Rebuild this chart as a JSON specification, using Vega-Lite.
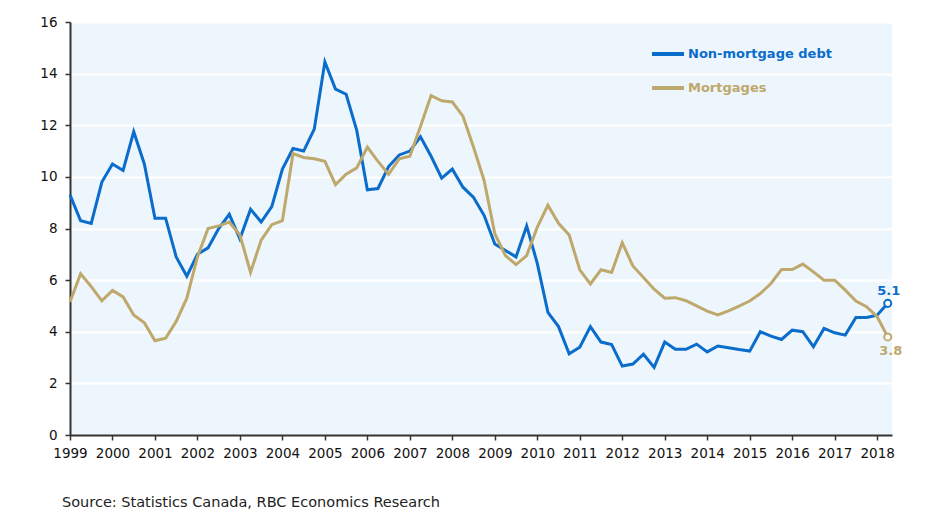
{
  "$schema": "https://vega.github.io/schema/vega-lite/v6.json",
  "width": 822,
  "height": 413,
  "autosize": "none",
  "padding": {"left": 70, "top": 22, "right": 46, "bottom": 76},
  "background": "white",
  "config": {
    "view": {"fill": "#eef6fd", "stroke": null},
    "axis": {"labelFont": "DejaVu Sans", "labelFontSize": 13.5, "labelColor": "#111111", "domainColor": "#333333", "domainWidth": 2, "tickColor": "#333333", "tickWidth": 1.5, "tickSize": 5}
  },
  "title": {
    "text": "Source: Statistics Canada, RBC Economics Research",
    "orient": "bottom",
    "anchor": "start",
    "frame": "group",
    "dx": -8,
    "offset": 36,
    "font": "DejaVu Sans",
    "fontSize": 14.5,
    "fontWeight": "normal",
    "color": "#222222"
  },
  "data": {
    "values": [
      {"t": 1999.0, "series": "Non-mortgage debt", "v": 9.3},
      {"t": 1999.25, "series": "Non-mortgage debt", "v": 8.3},
      {"t": 1999.5, "series": "Non-mortgage debt", "v": 8.2},
      {"t": 1999.75, "series": "Non-mortgage debt", "v": 9.8},
      {"t": 2000.0, "series": "Non-mortgage debt", "v": 10.5},
      {"t": 2000.25, "series": "Non-mortgage debt", "v": 10.25},
      {"t": 2000.5, "series": "Non-mortgage debt", "v": 11.75},
      {"t": 2000.75, "series": "Non-mortgage debt", "v": 10.5},
      {"t": 2001.0, "series": "Non-mortgage debt", "v": 8.4},
      {"t": 2001.25, "series": "Non-mortgage debt", "v": 8.4},
      {"t": 2001.5, "series": "Non-mortgage debt", "v": 6.9},
      {"t": 2001.75, "series": "Non-mortgage debt", "v": 6.15},
      {"t": 2002.0, "series": "Non-mortgage debt", "v": 7.0},
      {"t": 2002.25, "series": "Non-mortgage debt", "v": 7.25},
      {"t": 2002.5, "series": "Non-mortgage debt", "v": 8.0},
      {"t": 2002.75, "series": "Non-mortgage debt", "v": 8.55},
      {"t": 2003.0, "series": "Non-mortgage debt", "v": 7.6},
      {"t": 2003.25, "series": "Non-mortgage debt", "v": 8.75},
      {"t": 2003.5, "series": "Non-mortgage debt", "v": 8.25},
      {"t": 2003.75, "series": "Non-mortgage debt", "v": 8.85},
      {"t": 2004.0, "series": "Non-mortgage debt", "v": 10.3},
      {"t": 2004.25, "series": "Non-mortgage debt", "v": 11.1},
      {"t": 2004.5, "series": "Non-mortgage debt", "v": 11.0},
      {"t": 2004.75, "series": "Non-mortgage debt", "v": 11.85},
      {"t": 2005.0, "series": "Non-mortgage debt", "v": 14.45},
      {"t": 2005.25, "series": "Non-mortgage debt", "v": 13.4},
      {"t": 2005.5, "series": "Non-mortgage debt", "v": 13.2},
      {"t": 2005.75, "series": "Non-mortgage debt", "v": 11.8},
      {"t": 2006.0, "series": "Non-mortgage debt", "v": 9.5},
      {"t": 2006.25, "series": "Non-mortgage debt", "v": 9.55},
      {"t": 2006.5, "series": "Non-mortgage debt", "v": 10.4},
      {"t": 2006.75, "series": "Non-mortgage debt", "v": 10.85},
      {"t": 2007.0, "series": "Non-mortgage debt", "v": 11.0},
      {"t": 2007.25, "series": "Non-mortgage debt", "v": 11.55},
      {"t": 2007.5, "series": "Non-mortgage debt", "v": 10.8},
      {"t": 2007.75, "series": "Non-mortgage debt", "v": 9.95},
      {"t": 2008.0, "series": "Non-mortgage debt", "v": 10.3},
      {"t": 2008.25, "series": "Non-mortgage debt", "v": 9.6},
      {"t": 2008.5, "series": "Non-mortgage debt", "v": 9.2},
      {"t": 2008.75, "series": "Non-mortgage debt", "v": 8.5},
      {"t": 2009.0, "series": "Non-mortgage debt", "v": 7.4},
      {"t": 2009.25, "series": "Non-mortgage debt", "v": 7.15},
      {"t": 2009.5, "series": "Non-mortgage debt", "v": 6.9},
      {"t": 2009.75, "series": "Non-mortgage debt", "v": 8.1},
      {"t": 2010.0, "series": "Non-mortgage debt", "v": 6.65},
      {"t": 2010.25, "series": "Non-mortgage debt", "v": 4.75},
      {"t": 2010.5, "series": "Non-mortgage debt", "v": 4.2},
      {"t": 2010.75, "series": "Non-mortgage debt", "v": 3.15},
      {"t": 2011.0, "series": "Non-mortgage debt", "v": 3.4},
      {"t": 2011.25, "series": "Non-mortgage debt", "v": 4.2},
      {"t": 2011.5, "series": "Non-mortgage debt", "v": 3.6},
      {"t": 2011.75, "series": "Non-mortgage debt", "v": 3.5},
      {"t": 2012.0, "series": "Non-mortgage debt", "v": 2.67},
      {"t": 2012.25, "series": "Non-mortgage debt", "v": 2.75},
      {"t": 2012.5, "series": "Non-mortgage debt", "v": 3.13},
      {"t": 2012.75, "series": "Non-mortgage debt", "v": 2.62},
      {"t": 2013.0, "series": "Non-mortgage debt", "v": 3.6},
      {"t": 2013.25, "series": "Non-mortgage debt", "v": 3.32},
      {"t": 2013.5, "series": "Non-mortgage debt", "v": 3.32},
      {"t": 2013.75, "series": "Non-mortgage debt", "v": 3.52},
      {"t": 2014.0, "series": "Non-mortgage debt", "v": 3.22},
      {"t": 2014.25, "series": "Non-mortgage debt", "v": 3.45},
      {"t": 2014.5, "series": "Non-mortgage debt", "v": 3.38},
      {"t": 2014.75, "series": "Non-mortgage debt", "v": 3.31},
      {"t": 2015.0, "series": "Non-mortgage debt", "v": 3.25},
      {"t": 2015.25, "series": "Non-mortgage debt", "v": 4.0},
      {"t": 2015.5, "series": "Non-mortgage debt", "v": 3.83},
      {"t": 2015.75, "series": "Non-mortgage debt", "v": 3.7},
      {"t": 2016.0, "series": "Non-mortgage debt", "v": 4.06},
      {"t": 2016.25, "series": "Non-mortgage debt", "v": 4.0},
      {"t": 2016.5, "series": "Non-mortgage debt", "v": 3.42},
      {"t": 2016.75, "series": "Non-mortgage debt", "v": 4.13},
      {"t": 2017.0, "series": "Non-mortgage debt", "v": 3.96},
      {"t": 2017.25, "series": "Non-mortgage debt", "v": 3.87},
      {"t": 2017.5, "series": "Non-mortgage debt", "v": 4.55},
      {"t": 2017.75, "series": "Non-mortgage debt", "v": 4.55},
      {"t": 2018.0, "series": "Non-mortgage debt", "v": 4.64},
      {"t": 2018.25, "series": "Non-mortgage debt", "v": 5.1},
      {"t": 1999.0, "series": "Mortgages", "v": 5.15},
      {"t": 1999.25, "series": "Mortgages", "v": 6.25},
      {"t": 1999.5, "series": "Mortgages", "v": 5.75},
      {"t": 1999.75, "series": "Mortgages", "v": 5.2},
      {"t": 2000.0, "series": "Mortgages", "v": 5.6},
      {"t": 2000.25, "series": "Mortgages", "v": 5.35},
      {"t": 2000.5, "series": "Mortgages", "v": 4.65},
      {"t": 2000.75, "series": "Mortgages", "v": 4.35},
      {"t": 2001.0, "series": "Mortgages", "v": 3.65},
      {"t": 2001.25, "series": "Mortgages", "v": 3.75},
      {"t": 2001.5, "series": "Mortgages", "v": 4.4},
      {"t": 2001.75, "series": "Mortgages", "v": 5.3},
      {"t": 2002.0, "series": "Mortgages", "v": 6.9},
      {"t": 2002.25, "series": "Mortgages", "v": 8.0},
      {"t": 2002.5, "series": "Mortgages", "v": 8.1},
      {"t": 2002.75, "series": "Mortgages", "v": 8.25},
      {"t": 2003.0, "series": "Mortgages", "v": 7.75},
      {"t": 2003.25, "series": "Mortgages", "v": 6.3},
      {"t": 2003.5, "series": "Mortgages", "v": 7.55},
      {"t": 2003.75, "series": "Mortgages", "v": 8.15},
      {"t": 2004.0, "series": "Mortgages", "v": 8.3},
      {"t": 2004.25, "series": "Mortgages", "v": 10.9},
      {"t": 2004.5, "series": "Mortgages", "v": 10.75},
      {"t": 2004.75, "series": "Mortgages", "v": 10.7},
      {"t": 2005.0, "series": "Mortgages", "v": 10.6},
      {"t": 2005.25, "series": "Mortgages", "v": 9.7},
      {"t": 2005.5, "series": "Mortgages", "v": 10.1},
      {"t": 2005.75, "series": "Mortgages", "v": 10.35},
      {"t": 2006.0, "series": "Mortgages", "v": 11.15},
      {"t": 2006.25, "series": "Mortgages", "v": 10.6},
      {"t": 2006.5, "series": "Mortgages", "v": 10.1},
      {"t": 2006.75, "series": "Mortgages", "v": 10.7},
      {"t": 2007.0, "series": "Mortgages", "v": 10.8},
      {"t": 2007.25, "series": "Mortgages", "v": 11.95},
      {"t": 2007.5, "series": "Mortgages", "v": 13.15},
      {"t": 2007.75, "series": "Mortgages", "v": 12.95},
      {"t": 2008.0, "series": "Mortgages", "v": 12.9},
      {"t": 2008.25, "series": "Mortgages", "v": 12.35},
      {"t": 2008.5, "series": "Mortgages", "v": 11.15},
      {"t": 2008.75, "series": "Mortgages", "v": 9.85},
      {"t": 2009.0, "series": "Mortgages", "v": 7.8},
      {"t": 2009.25, "series": "Mortgages", "v": 6.95},
      {"t": 2009.5, "series": "Mortgages", "v": 6.6},
      {"t": 2009.75, "series": "Mortgages", "v": 6.95},
      {"t": 2010.0, "series": "Mortgages", "v": 8.05},
      {"t": 2010.25, "series": "Mortgages", "v": 8.9},
      {"t": 2010.5, "series": "Mortgages", "v": 8.2},
      {"t": 2010.75, "series": "Mortgages", "v": 7.75},
      {"t": 2011.0, "series": "Mortgages", "v": 6.4},
      {"t": 2011.25, "series": "Mortgages", "v": 5.85},
      {"t": 2011.5, "series": "Mortgages", "v": 6.4},
      {"t": 2011.75, "series": "Mortgages", "v": 6.3},
      {"t": 2012.0, "series": "Mortgages", "v": 7.45},
      {"t": 2012.25, "series": "Mortgages", "v": 6.55},
      {"t": 2012.5, "series": "Mortgages", "v": 6.1},
      {"t": 2012.75, "series": "Mortgages", "v": 5.65},
      {"t": 2013.0, "series": "Mortgages", "v": 5.3},
      {"t": 2013.25, "series": "Mortgages", "v": 5.32},
      {"t": 2013.5, "series": "Mortgages", "v": 5.2},
      {"t": 2013.75, "series": "Mortgages", "v": 5.0},
      {"t": 2014.0, "series": "Mortgages", "v": 4.8},
      {"t": 2014.25, "series": "Mortgages", "v": 4.65},
      {"t": 2014.5, "series": "Mortgages", "v": 4.81},
      {"t": 2014.75, "series": "Mortgages", "v": 4.99},
      {"t": 2015.0, "series": "Mortgages", "v": 5.19},
      {"t": 2015.25, "series": "Mortgages", "v": 5.48},
      {"t": 2015.5, "series": "Mortgages", "v": 5.87},
      {"t": 2015.75, "series": "Mortgages", "v": 6.41},
      {"t": 2016.0, "series": "Mortgages", "v": 6.41},
      {"t": 2016.25, "series": "Mortgages", "v": 6.62},
      {"t": 2016.5, "series": "Mortgages", "v": 6.32},
      {"t": 2016.75, "series": "Mortgages", "v": 6.0},
      {"t": 2017.0, "series": "Mortgages", "v": 6.0},
      {"t": 2017.25, "series": "Mortgages", "v": 5.61},
      {"t": 2017.5, "series": "Mortgages", "v": 5.19},
      {"t": 2017.75, "series": "Mortgages", "v": 4.97},
      {"t": 2018.0, "series": "Mortgages", "v": 4.58},
      {"t": 2018.25, "series": "Mortgages", "v": 3.8}
    ]
  },
  "encoding": {
    "x": {
      "field": "t",
      "type": "quantitative",
      "scale": {"domain": [1999, 2018.35], "nice": false, "zero": false},
      "axis": {
        "title": null,
        "values": [1999, 2000, 2001, 2002, 2003, 2004, 2005, 2006, 2007, 2008, 2009, 2010, 2011, 2012, 2013, 2014, 2015, 2016, 2017, 2018],
        "format": "d",
        "labelFlush": false,
        "labelPadding": 6,
        "grid": false
      }
    },
    "y": {
      "field": "v",
      "type": "quantitative",
      "scale": {"domain": [0, 16], "nice": false},
      "axis": {
        "title": null,
        "values": [0, 2, 4, 6, 8, 10, 12, 14, 16],
        "labelPadding": 8,
        "grid": true,
        "gridColor": "#ffffff",
        "gridWidth": 2,
        "gridOpacity": 1
      }
    },
    "color": {
      "field": "series",
      "type": "nominal",
      "scale": {"domain": ["Non-mortgage debt", "Mortgages"], "range": ["#0a6ccb", "#bea86c"]},
      "legend": {
        "title": null,
        "orient": "none",
        "legendX": 580,
        "legendY": 14,
        "symbolType": "stroke",
        "symbolSize": 1024,
        "symbolStrokeWidth": 4,
        "labelFont": "DejaVu Sans",
        "labelFontSize": 13,
        "labelFontWeight": "bold",
        "labelOffset": 2,
        "rowPadding": 8,
        "encode": {
          "labels": {"update": {"fill": {"scale": "color", "field": "value"}}}
        }
      }
    }
  },
  "layer": [
    {
      "mark": {"type": "line", "strokeWidth": 3, "interpolate": "linear"}
    },
    {
      "transform": [{"filter": "datum.t == 2018.25"}],
      "mark": {"type": "point", "shape": "circle", "filled": false, "fill": "#ffffff", "fillOpacity": 1, "size": 50, "strokeWidth": 2, "opacity": 1}
    },
    {
      "transform": [{"filter": "datum.t == 2018.25 && datum.series == 'Non-mortgage debt'"}],
      "mark": {"type": "text", "dy": -12, "dx": 1, "font": "DejaVu Sans", "fontSize": 13, "fontWeight": "bold"},
      "encoding": {"text": {"field": "v", "type": "quantitative", "format": ".1f"}}
    },
    {
      "transform": [{"filter": "datum.t == 2018.25 && datum.series == 'Mortgages'"}],
      "mark": {"type": "text", "dy": 14, "dx": 3, "font": "DejaVu Sans", "fontSize": 13, "fontWeight": "bold"},
      "encoding": {"text": {"field": "v", "type": "quantitative", "format": ".1f"}}
    }
  ]
}
